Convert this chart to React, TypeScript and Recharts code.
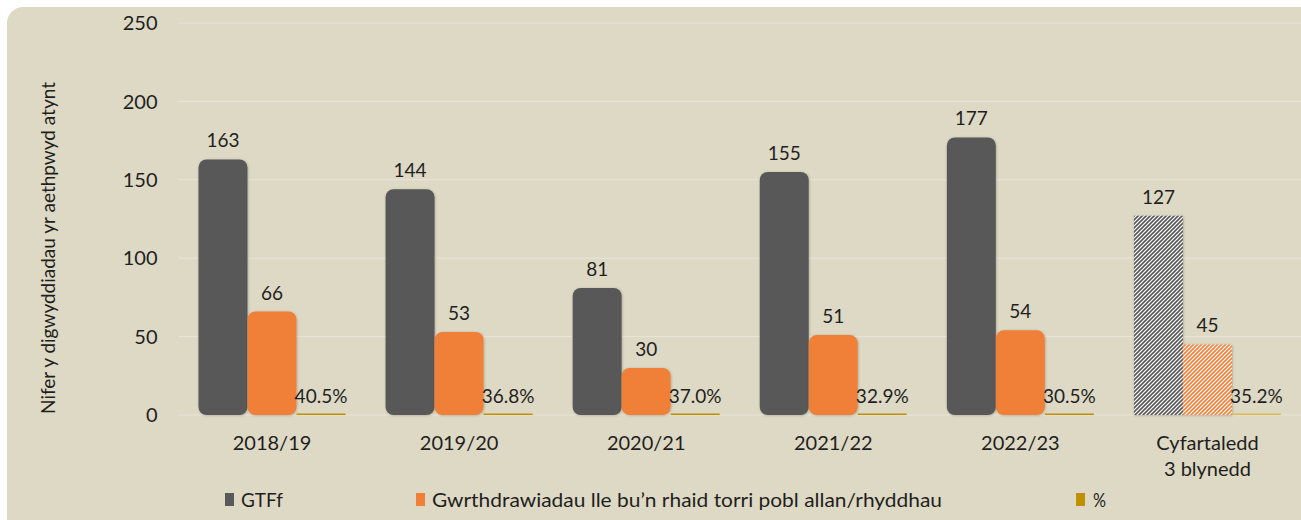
import React from 'react';
import { BarChart, Bar, XAxis, YAxis, CartesianGrid, Cell, LabelList, Legend } from 'recharts';

const categories = ['2018/19', '2019/20', '2020/21', '2021/22', '2022/23', 'Cyfartaledd\n3 blynedd'];
const gtff = [163, 144, 81, 155, 177, 127];
const rescues = [66, 53, 30, 51, 54, 45];
const percents = [40.5, 36.8, 37.0, 32.9, 30.5, 35.2];
const yTicks = [0, 50, 100, 150, 200, 250];

const FONT = 'Lato, "Noto Sans", sans-serif';
const TEXT = '#1f1f1f';
const GRAY = '#595959';
const ORANGE = '#F07F38';
const GOLD = '#BF9000';

const data = categories.map((name, i) => ({
  name,
  gtff: gtff[i],
  rescues: rescues[i],
  pct: percents[i] / 100,
  pctLabel: percents[i],
}));

const XTick = (props: any) => {
  const { x, y, payload } = props;
  const lines = String(payload.value).split('\n');
  return (
    <text x={x} y={y} textAnchor="middle" fill={TEXT} fontSize={20} fontFamily={FONT}>
      {lines.map((l, i) => (
        <tspan key={i} x={x} dy={i === 0 ? 35 : 26}>
          {l}
        </tspan>
      ))}
    </text>
  );
};

const legendItems = [
  { color: GRAY, label: 'GTFf', box: 218, text: 234, len: 42 },
  { color: ORANGE, label: 'Gwrthdrawiadau lle bu\u2019n rhaid torri pobl allan/rhyddhau', box: 409, text: 425, len: 510 },
  { color: GOLD, label: '%', box: 1069, text: 1086, len: 13 },
];

const LegendContent = () => (
  <svg width={1294} height={40}>
    {legendItems.map((it) => (
      <g key={it.label}>
        <rect x={it.box} y={13} width={9} height={13} fill={it.color} />
        <text
          x={it.text}
          y={27}
          fontSize={19}
          fontFamily={FONT}
          fill={TEXT}
          textLength={it.len}
          lengthAdjust="spacingAndGlyphs"
        >
          {it.label}
        </text>
      </g>
    ))}
  </svg>
);

const YLabel = () => (
  <text
    x={48}
    y={241}
    transform="rotate(-90 48 241)"
    textAnchor="middle"
    fontSize={19}
    fontFamily={FONT}
    fill={TEXT}
  >
    Nifer y digwyddiadau yr aethpwyd atynt
  </text>
);

const last = categories.length - 1;

export default function App() {
  return (
    <div>
      <style>{'body{margin:0;background:#fff;}'}</style>
      <div
        style={{
          position: 'absolute',
          left: 7,
          top: 7,
          width: 1294,
          height: 513,
          background: '#DDD9C4',
          borderTopLeftRadius: 16,
          overflow: 'hidden',
        }}
      >
        <BarChart
          width={1294}
          height={513}
          data={data}
          margin={{ top: 16, right: 0, left: 0, bottom: 0 }}
          barGap={0}
        >
          <defs>
            <pattern id="hatchGray" width={4} height={4} patternUnits="userSpaceOnUse">
              <rect width={4} height={4} fill="#ffffff" />
              <path d="M-1,1 l2,-2 M0,4 l4,-4 M3,5 l2,-2" stroke={GRAY} strokeWidth={1.6} />
            </pattern>
            <pattern id="hatchOrange" width={4} height={4} patternUnits="userSpaceOnUse">
              <rect width={4} height={4} fill="#ffffff" />
              <path d="M-1,1 l2,-2 M0,4 l4,-4 M3,5 l2,-2" stroke={ORANGE} strokeWidth={1.6} />
            </pattern>
            <filter id="soft" x="-10%" y="-10%" width="120%" height="120%">
              <feDropShadow dx={0.5} dy={0.5} stdDeviation={1} floodColor="#000" floodOpacity={0.25} />
            </filter>
          </defs>
          <CartesianGrid vertical={false} stroke="#E8E5D8" strokeWidth={1} />
          <XAxis
            dataKey="name"
            axisLine={false}
            tickLine={false}
            tickSize={0}
            tickMargin={0}
            height={65}
            interval={0}
            tick={<XTick />}
          />
          <YAxis
            width={171.5}
            domain={[0, 250]}
            ticks={yTicks}
            axisLine={false}
            tickLine={false}
            tickSize={0}
            tickMargin={21}
            tick={{ fill: TEXT, fontSize: 20, fontFamily: FONT }}
            label={<YLabel />}
          />
          <Legend
            verticalAlign="bottom"
            content={<LegendContent />}
            wrapperStyle={{ left: 0, bottom: 0, width: 1294, height: 40 }}
          />
          <Bar dataKey="gtff" fill={GRAY} barSize={49} radius={8} isAnimationActive={false} filter="url(#soft)">
            {data.map((d, i) => (
              <Cell key={d.name} fill={i === last ? 'url(#hatchGray)' : GRAY} radius={i === last ? 0 : 8} />
            ))}
            <LabelList dataKey="gtff" position="top" offset={12} fill={TEXT} fontSize={19} fontFamily={FONT} />
          </Bar>
          <Bar dataKey="rescues" fill={ORANGE} barSize={49} radius={8} isAnimationActive={false} filter="url(#soft)">
            {data.map((d, i) => (
              <Cell key={d.name} fill={i === last ? 'url(#hatchOrange)' : ORANGE} radius={i === last ? 0 : 8} />
            ))}
            <LabelList dataKey="rescues" position="top" offset={12} fill={TEXT} fontSize={19} fontFamily={FONT} />
          </Bar>
          <Bar dataKey="pct" fill={GOLD} barSize={49} minPointSize={1.5} isAnimationActive={false}>
            {data.map((d, i) => (
              <Cell key={d.name} fill={i === last ? '#E0B850' : GOLD} />
            ))}
            <LabelList
              dataKey="pctLabel"
              position="top"
              offset={11}
              fill={TEXT}
              fontSize={19}
              fontFamily={FONT}
              formatter={(v: any) => `${Number(v).toFixed(1)}%`}
            />
          </Bar>
        </BarChart>
      </div>
    </div>
  );
}
